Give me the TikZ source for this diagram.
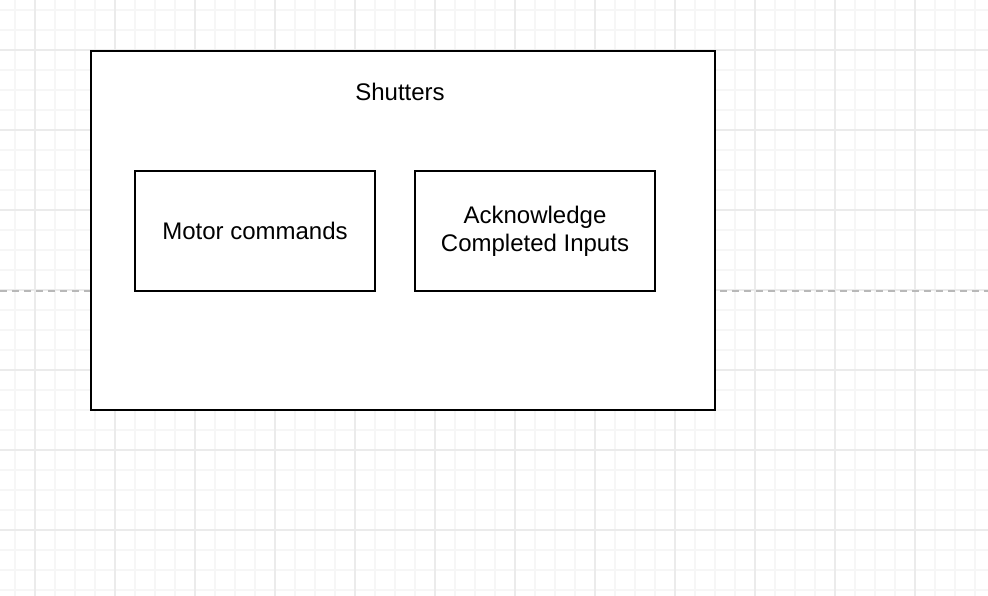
\documentclass[tikz,border=0pt]{standalone}
\usepackage{fontspec}
\setmainfont{Liberation Sans}
\usetikzlibrary{positioning}
\definecolor{gridminor}{HTML}{F6F6F6}
\definecolor{gridmajor}{HTML}{EBEBEB}
\definecolor{pagebreak}{HTML}{B8B8B8}

\begin{document}
\begin{tikzpicture}[
  x=1pt, y=-1pt,
  font=\fontsize{24}{28}\selectfont,
  container/.style={draw, line width=2pt, fill=white, minimum width=624pt,
                    minimum height=359pt, inner sep=0pt},
  block/.style={draw, line width=2pt, fill=white, minimum width=240pt,
                minimum height=120pt, align=center, inner sep=0pt},
  minorline/.style={gridminor, line width=1.5pt},
  majorline/.style={gridmajor, line width=1.5pt}
]
\useasboundingbox (0,0) rectangle (988,596);
\fill[white] (0,0) rectangle (988,596);
% background grid
\foreach \gx in {15,35,...,975} \draw[minorline] (\gx,0) -- (\gx,596);
\foreach \gy in {10,30,...,590} \draw[minorline] (0,\gy) -- (988,\gy);
\foreach \gx in {35,115,...,915} \draw[majorline] (\gx,0) -- (\gx,596);
\foreach \gy in {50,130,...,530} \draw[majorline] (0,\gy) -- (988,\gy);
% page break
\coordinate (pbl) at (0,291);
\coordinate (pbr) at (988,291);
\draw[pagebreak, line width=1.5pt, dash pattern=on 7pt off 5pt] (pbl) -- (pbr);

\node[container] (shutters) at (403,230.5) {};
\node (title) at (400,92) {Shutters};
\node[block] (motor) at (255,231) {Motor commands};
\node[block, right=38pt of motor] (ack) {Acknowledge\\Completed Inputs};
\end{tikzpicture}
\end{document}
